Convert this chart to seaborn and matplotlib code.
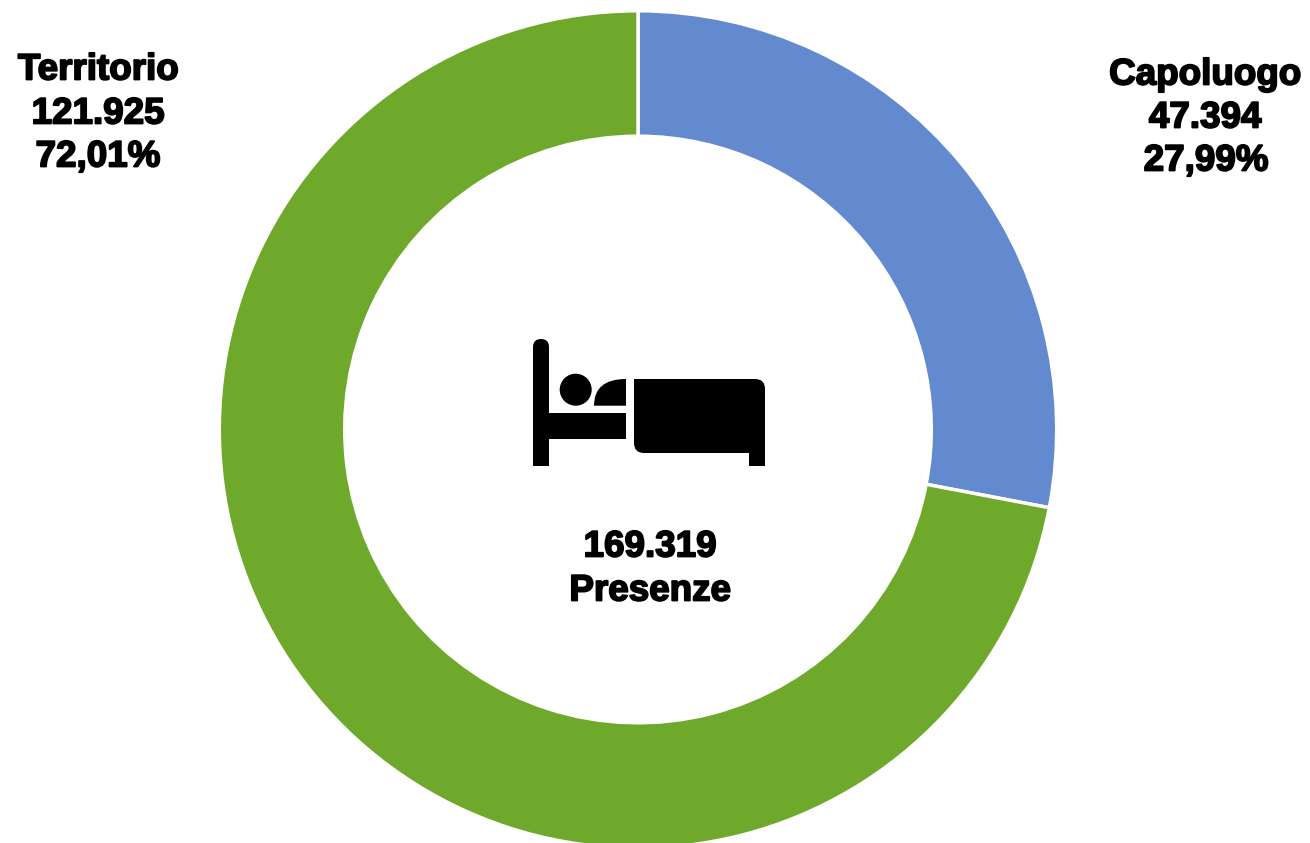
import matplotlib
matplotlib.use("Agg")
import matplotlib.pyplot as plt
import matplotlib.patheffects as pe
import seaborn as sns
from matplotlib.patches import Circle, FancyBboxPatch, PathPatch, Rectangle
from matplotlib.path import Path

categories = ["Capoluogo", "Territorio"]
values = [47394, 121925]
value_labels = ["47.394", "121.925"]
pct_labels = ["27,99%", "72,01%"]
total_label = "169.319"
center_label = "Presenze"
colors = ["#638ACF", "#6FA92C"]

sns.set_theme(style="white")
plt.rcParams['font.family'] = ['Liberation Sans', 'DejaVu Sans']

W, H = 1310, 843
fig = plt.figure(figsize=(W/100, H/100), dpi=100)
ax = fig.add_axes([0, 0, 1, 1])

cx, cy, R, r = 638, 429.5, 418.7, 293.3
# the y axis is inverted below, so a counter-clockwise pie from -90 reads clockwise from the top
ax.pie(values, colors=colors, startangle=-90, counterclock=True, center=(cx, cy), radius=R,
       wedgeprops=dict(width=R-r, edgecolor="white", linewidth=2.5), frame=True)
ax.set_xlim(0, W)
ax.set_ylim(H, 0)
ax.set_aspect("equal")
ax.axis("off")
ax.set_position([0, 0, 1, 1])

def lbl(x, y, s, size=26.5):
    ax.text(x, y, s, ha="center", va="center", fontsize=size, fontweight="bold", color="black",
            clip_on=False, path_effects=[pe.withStroke(linewidth=1.3, foreground="black")])

lbl(1205, 75, categories[0]); lbl(1205, 118, value_labels[0]); lbl(1206, 161, pct_labels[0])
lbl(98, 70, categories[1]); lbl(98, 114, value_labels[1]); lbl(98, 157, pct_labels[1])
lbl(650, 547, total_label); lbl(650, 591, center_label)

k = "black"
ax.add_patch(FancyBboxPatch((533, 339), 16, 60, boxstyle="round,pad=0,rounding_size=8", fc=k, ec="none"))
ax.add_patch(Rectangle((533, 350), 16, 116, fc=k, ec="none"))
ax.add_patch(Rectangle((533, 413), 93, 26, fc=k, ec="none"))
ax.add_patch(Circle((575.7, 389.7), 16, fc=k, ec="none"))
pillow = Path([(626, 379), (594, 379), (594, 405.7), (626, 405.7), (626, 379)],
              [Path.MOVETO, Path.CURVE3, Path.CURVE3, Path.LINETO, Path.CLOSEPOLY])
ax.add_patch(PathPatch(pillow, fc=k, ec="none"))
blanket = Path([(634, 379), (755, 379), (765, 379), (765, 389), (765, 453), (644, 453), (634, 453), (634, 443), (634, 379)],
               [Path.MOVETO, Path.LINETO, Path.CURVE3, Path.CURVE3, Path.LINETO, Path.LINETO, Path.CURVE3, Path.CURVE3, Path.CLOSEPOLY])
ax.add_patch(PathPatch(blanket, fc=k, ec="none"))
ax.add_patch(Rectangle((749, 445), 16, 21, fc=k, ec="none"))

fig.savefig("out.png", dpi=100)
